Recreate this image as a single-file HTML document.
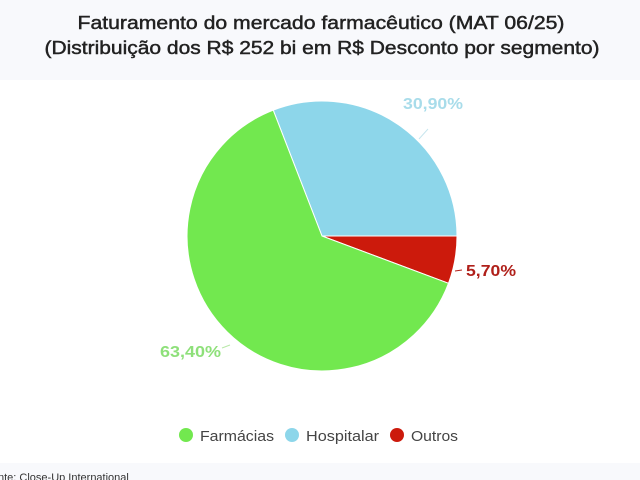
<!DOCTYPE html>
<html><head><meta charset="utf-8"><style>
html,body{margin:0;padding:0;background:#fff;}
svg{display:block;}
</style></head><body>
<svg width="640" height="480" viewBox="0 0 640 480" xmlns="http://www.w3.org/2000/svg" font-family="Liberation Sans, sans-serif">
<rect x="0" y="0" width="640" height="80" fill="#f8f9fc"/>
<rect x="0" y="463" width="640" height="17" fill="#f8f9fc"/>
<text x="321" y="29" font-size="18" fill="#222" stroke="#222" stroke-width="0.45" text-anchor="middle" textLength="487" lengthAdjust="spacingAndGlyphs">Faturamento do mercado farmacêutico (MAT 06/25)</text>
<text x="322" y="54" font-size="18" fill="#222" stroke="#222" stroke-width="0.45" text-anchor="middle" textLength="555" lengthAdjust="spacingAndGlyphs">(Distribuição dos R$ 252 bi em R$ Desconto por segmento)</text>
<path d="M322,236 L273.2,110.1 A135,135 0 0 1 457,236 Z" fill="#8dd6ea" stroke="#fff" stroke-width="1"/>
<path d="M322,236 L457,236 A135,135 0 0 1 448.5,283.3 Z" fill="#cc1a0c" stroke="#fff" stroke-width="1"/>
<path d="M322,236 L448.5,283.3 A135,135 0 1 1 273.2,110.1 Z" fill="#72e84f" stroke="#fff" stroke-width="1"/>
<line x1="419" y1="139" x2="428" y2="129" stroke="#c8e6ee" stroke-width="1"/>
<line x1="455" y1="271" x2="462" y2="270" stroke="#b0201a" stroke-width="1"/>
<line x1="222" y1="348" x2="230" y2="345" stroke="#b8e8a8" stroke-width="1"/>
<text x="403" y="109" font-size="16" font-weight="bold" fill="#a8dcea" textLength="60" lengthAdjust="spacingAndGlyphs">30,90%</text>
<text x="466" y="276" font-size="16" font-weight="bold" fill="#b0201a" textLength="50" lengthAdjust="spacingAndGlyphs">5,70%</text>
<text x="160" y="357" font-size="16" font-weight="bold" fill="#8ee07a" textLength="61" lengthAdjust="spacingAndGlyphs">63,40%</text>
<circle cx="186" cy="435" r="7" fill="#72e84f"/>
<text x="200" y="441" font-size="15" fill="#444" textLength="74" lengthAdjust="spacingAndGlyphs">Farmácias</text>
<circle cx="292" cy="435" r="7" fill="#8dd6ea"/>
<text x="306" y="441" font-size="15" fill="#444" textLength="73" lengthAdjust="spacingAndGlyphs">Hospitalar</text>
<circle cx="397" cy="435" r="7" fill="#cc1a0c"/>
<text x="411" y="441" font-size="15" fill="#444" textLength="47" lengthAdjust="spacingAndGlyphs">Outros</text>
<text x="-2" y="481" font-size="11" fill="#333">nte: Close-Up International</text>
</svg>
</body></html>
